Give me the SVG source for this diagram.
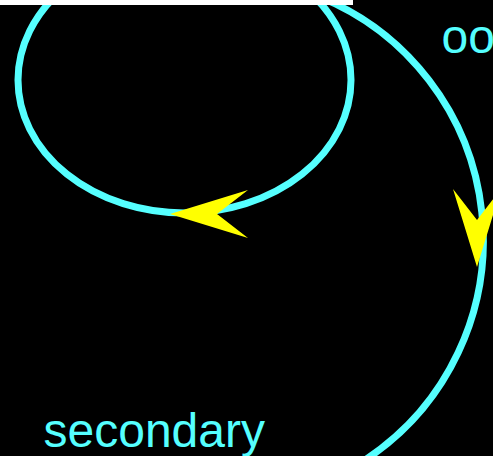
<svg xmlns="http://www.w3.org/2000/svg" width="493" height="456" viewBox="0 0 493 456">
  <style>
    .edge { fill: none; stroke: #55ffff; stroke-width: 7; }
    .head { fill: #ffff00; stroke: none; }
    .label { fill: #55ffff; font-family: "Liberation Sans", Arial, sans-serif; font-size: 48px; }
  </style>
  <defs>
    <path id="arrowhead" d="M0,0 L-78,-24 L-47,0 L-78,24 Z"/>
  </defs>
  <rect x="0" y="0" width="493" height="456" fill="#000000"/>
  <g id="connectors">
    <ellipse class="edge" cx="184.5" cy="80" rx="166.5" ry="133"/>
    <path class="edge" d="M315,-5 A263,263 0 0 1 365,460"/>
    <use href="#arrowhead" class="head" transform="translate(170,214) rotate(180)"/>
    <use href="#arrowhead" class="head" transform="translate(477,267) rotate(90)"/>
  </g>
  <g id="node-top">
    <rect x="0" y="0" width="353" height="5" fill="#ffffff"/>
  </g>
  <g id="label-oo">
    <text class="label" x="441.5" y="53">oo</text>
  </g>
  <g id="label-secondary">
    <text class="label" x="43.5" y="447">secondary</text>
  </g>
</svg>
